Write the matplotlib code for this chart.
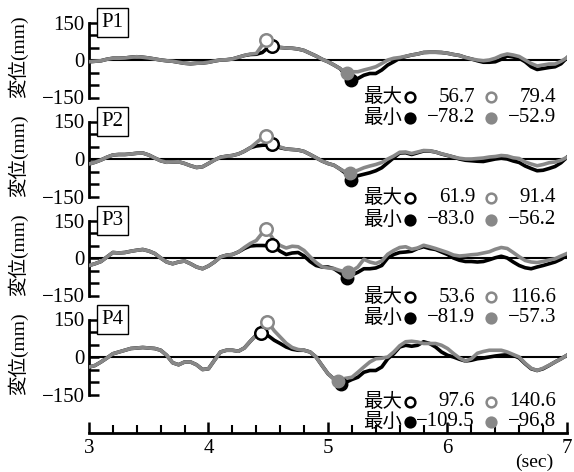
import numpy as np
import matplotlib
matplotlib.use('Agg')
import matplotlib.pyplot as plt
from matplotlib.lines import Line2D

plt.rcParams['font.family'] = ['Liberation Serif', 'Noto Sans CJK JP']
plt.rcParams['axes.unicode_minus'] = True

# time grid (sec), every 0.05 s, and displacements (mm)
t_grid = np.round(np.arange(3.0, 7.001, 0.05), 2)
panels = ['P1', 'P2', 'P3', 'P4']

b1 = [-7, -5, -3, 3, 7, 7, 8, 11, 13, 11,
      8, 4, 0, -3, -5, -9, -13, -15, -13, -12,
      -9, -4, 0, 1, 4, 11, 18, 22, 23, 30,
      50, 53, 50, 48, 47, 44, 38, 27, 16, 3,
      -7, -20, -34, -60, -76, -74, -61, -54, -54, -40,
      -20, -7, 7, 14, 20, 24, 30, 31, 31, 30,
      27, 22, 18, 10, 4, -3, -9, -9, -7, 3,
      16, 12, 7, -7, -27, -38, -34, -30, -27, -15,
      9]
g1 = [-7, -5, -3, 3, 7, 7, 8, 11, 13, 11,
      8, 4, 0, -3, -5, -9, -13, -15, -13, -12,
      -9, -4, 0, 1, 4, 11, 18, 24, 26, 60,
      70, 58, 50, 48, 47, 44, 38, 27, 16, 3,
      -7, -20, -34, -50, -47, -47, -40, -34, -27, -14,
      0, 7, 10, 15, 20, 24, 30, 31, 31, 30,
      27, 22, 18, 10, 4, 0, -3, 0, 7, 18,
      24, 20, 14, 0, -14, -24, -20, -16, -16, -5,
      9]
b2 = [-20, -13, -4, 7, 16, 18, 18, 20, 23, 24,
      16, 4, -7, -13, -12, -11, -18, -27, -34, -31,
      -18, -4, 7, 11, 14, 20, 31, 45, 52, 55,
      56, 55, 45, 40, 38, 36, 30, 18, 5, -8,
      -18, -25, -40, -58, -78, -67, -61, -55, -47, -35,
      -15, 5, 24, 25, 18, 25, 32, 32, 28, 20,
      14, 8, 0, -5, -7, -9, -10, -5, 0, 3,
      0, -8, -14, -28, -38, -47, -45, -38, -30, -15,
      7]
g2 = [-20, -13, -4, 7, 16, 18, 18, 20, 23, 24,
      16, 4, -7, -13, -12, -11, -18, -27, -34, -31,
      -18, -4, 7, 11, 14, 20, 31, 45, 65, 85,
      82, 62, 48, 40, 38, 36, 30, 18, 5, -8,
      -18, -25, -40, -52, -52, -45, -35, -28, -22, -14,
      0, 12, 27, 28, 22, 28, 34, 33, 28, 21,
      15, 8, 3, 0, 0, 2, 4, 8, 10, 14,
      12, 5, 2, -12, -20, -27, -22, -15, -12, -5,
      7]
b3 = [-30, -23, -14, 4, 22, 20, 22, 27, 31, 34,
      28, 18, 0, -16, -23, -16, -12, -23, -36, -43,
      -32, -16, 4, 11, 14, 24, 38, 48, 50, 50,
      49, 45, 27, 14, 20, 22, 8, -14, -30, -36,
      -36, -43, -59, -78, -68, -57, -43, -43, -40, -30,
      0, 14, 22, 24, 27, 38, 45, 38, 34, 24,
      14, 0, -9, -14, -14, -16, -14, -7, 1, 7,
      0, -16, -30, -39, -43, -36, -30, -23, -16, -5,
      11]
g3 = [-30, -23, -14, 4, 22, 20, 22, 27, 31, 34,
      28, 18, 0, -16, -23, -16, -12, -23, -36, -43,
      -32, -16, 4, 11, 14, 24, 42, 58, 70, 100,
      105, 70, 50, 40, 47, 45, 30, 5, -18, -35,
      -40, -42, -50, -55, -52, -36, -5, -16, -22, -12,
      15, 30, 42, 45, 35, 40, 51, 45, 38, 30,
      22, 12, 8, 10, 13, 15, 20, 25, 35, 42,
      38, 22, 5, -10, -16, -18, -14, -8, -3, 8,
      18]
b4 = [-40, -34, -20, -4, 13, 20, 27, 34, 36, 38,
      36, 34, 27, 7, -23, -31, -20, -20, -31, -50,
      -47, -13, 20, 27, 27, 23, 36, 63, 88, 96,
      85, 67, 54, 40, 31, 27, 27, 20, 0, -34,
      -67, -88, -105, -101, -90, -81, -61, -54, -54, -40,
      -7, 13, 40, 47, 43, 47, 61, 54, 40, 20,
      7, 0, -9, -16, -13, -7, -4, 0, 4, 7,
      9, 7, -4, -27, -47, -54, -47, -34, -20, -7,
      7]
g4 = [-40, -34, -20, -4, 13, 20, 27, 34, 36, 38,
      36, 34, 27, 7, -23, -31, -20, -20, -31, -50,
      -47, -13, 20, 27, 27, 23, 36, 63, 88, 125,
      138, 105, 80, 55, 38, 30, 27, 20, 0, -34,
      -67, -88, -90, -85, -81, -61, -40, -20, -7, -5,
      0, 20, 45, 61, 63, 60, 54, 54, 54, 47,
      34, 14, -4, -16, -7, 15, 22, 27, 27, 27,
      20, 10, 0, -25, -45, -54, -45, -33, -20, -7,
      7]
black = [b1, b2, b3, b4]
grey = [g1, g2, g3, g4]

# peak values (labels) and their times
max_t_black = [4.53, 4.53, 4.53, 4.44]
max_v_black = [56.7, 61.9, 53.6, 97.6]
max_t_grey = [4.48, 4.48, 4.48, 4.49]
max_v_grey = [79.4, 91.4, 116.6, 140.6]
min_t_black = [5.19, 5.19, 5.16, 5.11]
min_v_black = [-78.2, -83.0, -81.9, -109.5]
min_t_grey = [5.16, 5.18, 5.17, 5.08]
min_v_grey = [-52.9, -56.2, -57.3, -96.8]

x_ticks = [3, 4, 5, 6, 7]

W, H = 574, 472
fig = plt.figure(figsize=(W / 100, H / 100), dpi=100)

GREY = '#888888'
FS = 15

def fx(px):
    return px / W

def fy(py):
    return 1 - py / H

def series(vals, tmax, vmax, tmin, vmin):
    t = np.concatenate([t_grid, [tmax, tmin]])
    v = np.concatenate([vals, [vmax, vmin]])
    order = np.argsort(t)
    return t[order], v[order]

def fmt(v):
    return f'{v:.1f}'.replace('-', '\u2212')

ax_left, ax_w = 89, 478
zeros = [60, 159, 258, 357]
row_y = [(97, 118), (198, 220), (297, 318), (402, 422)]

for i, name in enumerate(panels):
    z = zeros[i]
    ax = fig.add_axes([fx(ax_left), fy(z + 37.5), ax_w / W, 75 / H])
    ax.set_xlim(3, 7)
    ax.set_ylim(-150, 150)
    ax.patch.set_alpha(0)
    for s in ['top', 'right', 'bottom']:
        ax.spines[s].set_visible(False)
    ax.spines['left'].set_linewidth(2)
    ax.set_xticks([])
    ax.set_yticks([-150, -100, -50, 0, 50, 100, 150])
    ax.set_yticklabels(['\u2212150', '', '', '0', '', '', '150'])
    ax.tick_params(axis='y', direction='in', length=7, width=1.8, pad=3, labelsize=FS)
    ax.axhline(0, color='black', lw=1.5, zorder=1)

    tb, vb = series(black[i], max_t_black[i], max_v_black[i], min_t_black[i], min_v_black[i])
    tg, vg = series(grey[i], max_t_grey[i], max_v_grey[i], min_t_grey[i], min_v_grey[i])
    ax.plot(tb, vb, color='black', lw=2.6, solid_joinstyle='round', zorder=2)
    ax.plot(tg, vg, color=GREY, lw=2.6, solid_joinstyle='round', zorder=3)

    ms = 9
    ax.plot(max_t_black[i], max_v_black[i], 'o', ms=ms, mfc='white', mec='black', mew=1.8, zorder=5, clip_on=False)
    ax.plot(max_t_grey[i], max_v_grey[i], 'o', ms=ms, mfc='white', mec=GREY, mew=1.8, zorder=5, clip_on=False)
    ax.plot(min_t_black[i], min_v_black[i], 'o', ms=ms, mfc='black', mec='black', zorder=5, clip_on=False)
    ax.plot(min_t_grey[i], min_v_grey[i], 'o', ms=ms, mfc=GREY, mec=GREY, zorder=6, clip_on=False)

    ax.text(0.026, 150, name, transform=ax.get_yaxis_transform(), ha='left', va='center', fontsize=FS,
            bbox=dict(boxstyle='square,pad=0.22', fc='white', ec='black', lw=1))

    fig.text(fx(18), fy(z - 3), '変位(mm)', rotation=90, ha='center', va='center', fontsize=14)

    # peak value annotations
    y1, y2 = row_y[i]
    rows = [(y1, '最大', max_v_black[i], max_v_grey[i], False),
            (y2, '最小', min_v_black[i], min_v_grey[i], True)]
    for yy, lab, vb_, vg_, filled in rows:
        fig.text(fx(402), fy(yy), lab, ha='right', va='center', fontsize=14)
        fig.add_artist(Line2D([fx(410)], [fy(yy)], transform=fig.transFigure, marker='o', ms=7,
                              mfc='black' if filled else 'white', mec='black', mew=1.8))
        fig.add_artist(Line2D([fx(491)], [fy(yy)], transform=fig.transFigure, marker='o', ms=7,
                              mfc=GREY if filled else 'white', mec=GREY, mew=1.8))
        fig.text(fx(475), fy(yy), fmt(vb_), ha='right', va='center', fontsize=FS)
        fig.text(fx(556), fy(yy), fmt(vg_), ha='right', va='center', fontsize=FS)

# shared time axis
axb = fig.add_axes([fx(ax_left), fy(433), ax_w / W, 10 / H])
axb.patch.set_alpha(0)
axb.set_xlim(3, 7)
axb.set_yticks([])
for s in ['top', 'right', 'left']:
    axb.spines[s].set_visible(False)
axb.spines['bottom'].set_linewidth(2)
axb.set_xticks(x_ticks)
axb.set_xticks(np.arange(3, 7.01, 0.2), minor=True)
axb.tick_params(axis='x', which='major', direction='in', length=8, width=1.8, pad=4, labelsize=FS)
axb.tick_params(axis='x', which='minor', direction='in', length=6, width=1.5)
fig.text(fx(534), fy(462), '(sec)', ha='center', va='center', fontsize=14)

fig.savefig('out.png', dpi=100)
